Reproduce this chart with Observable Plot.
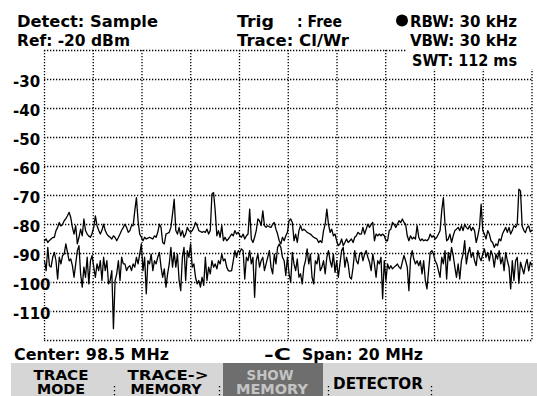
<!DOCTYPE html>
<html><head><meta charset="utf-8">
<script src="https://cdn.jsdelivr.net/npm/d3@7"></script>
<script src="https://cdn.jsdelivr.net/npm/@observablehq/plot@0.6"></script>
<style>
html,body{margin:0;padding:0;background:#fff;}
#chart{width:537px;height:396px;overflow:hidden;}
svg text{font-family:"DejaVu Sans",sans-serif;font-weight:bold;}
</style></head><body><div id="chart"></div>
<script>
// ---- data ----
const centerMHz = 98.5;
const spanMHz = 20;
const gridLevels = [-20,-30,-40,-50,-60,-70,-80,-90,-100,-110,-120];
const levelTicks = [-30,-40,-50,-60,-70,-80,-90,-100,-110];
const levelTickLabels = ["-30","-40","-50","-60","-70","-80","-90","-100","-110"];
const gridFreqs = [88.5,90.5,92.5,94.5,96.5,98.5,100.5,102.5,104.5,106.5,108.5];

// upper trace (clear/write)
const traceClearWrite = [
-85.6,-85,-86.2,-85.5,-85,-84.5,-84.4,-82.1,-81,-79.3,-80.5,-79.9,-78.7,-78,-77,-75.8,-77.6,-81,-83.3,-80.4,
-86.7,-84.4,-81.6,-83.9,-78.1,-82.1,-83.3,-84,-84.4,-83,-81,-77,-80.4,-82,-83.3,-82,-79.9,-82.1,-83.3,-84,
-84.4,-85,-83.9,-84.5,-85.6,-84.5,-83.3,-82,-81,
-79.9,-81,-82.7,-82.1,-80.4,-80.4,-75.3,-70.7,-78.7,-83.3,-84.4,-85.6,-84.4,-85,-84.7,-84.4,-84.7,-85,-83.9,-84.4,
-82.7,-79.9,-81,-86.2,-86.7,-83.3,-83,-82.7,-81,-76.4,-71.3,-82.1,-83.3,-81,-83.9,-82.1,-84.4,-83.3,-81,-82.1,
-82.7,-82.1,-81,-79.3,-80.4,-82.1,-82.4,-82.7,
-82.4,-82.7,-81.6,-83.3,-82.1,-69.5,-69,-75.3,-83.9,-82.1,-84.4,-80.4,-85.6,-84.4,-85.6,-85,-84.2,-83.3,-83.9,-82.1,
-83.3,-82.7,-83.9,-84.4,-83.3,-85,-83.9,-83.3,-74.7,-85,-86.2,-84.4,-82.1,-78.1,-78.7,-80.4,-75.3,-80.4,-81,-80.4,
-80.8,-81,-79.9,-79.3,-81.6,-83.3,-85.6,-86.7,
-84.4,-85.6,-83.9,-82.7,-78.7,-78.1,-79.3,-85.6,-83.3,-86.2,-82.1,-80.4,-82.1,-81.6,-82.1,-82.7,-83,-83.3,-83.9,-84.4,
-84.7,-85,-86.2,-85.6,-86.2,-82.1,-79.9,-74.7,-79.9,-82.7,-81.6,-83.9,-83.3,-85.6,-87.3,-86.7,-85,-87.3,-86.2,-85,
-86.2,-85.6,-85,-86.2,-84.4,-83.9,-82.7,-83.3,
-83.3,-81,-83.3,-81.6,-79.9,-81,-79.9,-79.3,-85.6,-83.3,-83.9,-83.3,-83.9,-83.3,-83.9,-85.6,-85.6,-82.1,-81.6,-79.3,
-79.9,-81,-79.9,-78.7,-79.3,-78.1,-79.3,-79.9,-83.9,-85.6,-83.9,-85,-84.4,-85,-80.4,-84.4,-85.6,-85,-85.6,-85.3,
-85.6,-85,-83.3,-84.4,-83.9,-85,-84.4,-83.3,
-82.1,-75.3,-70.7,-79.9,-85.6,-85,-83.3,-86.2,-83.9,-82.1,-81.6,-81,-82.1,-80.4,-82.1,-79.9,-81,-81.6,-80.4,-82.1,
-81,-82.1,-86.2,-83.9,-81,-73,-82.1,-83.3,-85,-82.1,-83.3,-85.6,-86.2,-87.9,-86.7,-87.3,-85,-85.6,-83.3,-82.1,
-81,-82.7,-81,-83.3,-82.1,-80.4,-81,-79.9,
-67.8,-68.4,-80.5,-82,-82.8,-81,-80.5,-82.5,-82
];

// lower trace (memory)
const traceMemory = [
-92.5,-95.9,-87.9,-94.2,-94.7,-91.3,-89.6,-92.5,-98.8,-91.3,-93.6,-90.7,-90.2,-86.7,-89.6,-92.5,-91.9,-94.2,-98.2,-93.6,
-89,-87.3,-97,-101.6,-94.7,-98.2,-91.3,-100.5,-92.5,-90.7,-94.7,-98.2,-93.6,-95.9,-92.5,-99.3,-91.3,-95.9,-92.5,-100.5,
-99.3,-95.9,-115.9,-99.3,-97,-92.5,-99.3,-91.3,-93.6,
-93.6,-95.9,-94.7,-94.2,-95.9,-93.6,-94.7,-91.3,-93.6,-90.2,-86.7,-95.9,-91.3,-103.9,-92.5,-93.6,-90.2,-95.9,-92.5,-93.6,
-91.3,-89.6,-94.7,-98.2,-95.3,-101.6,-97,-93.6,-87.9,-94.7,-89.6,-94.7,-90.2,-99.3,-102.8,-91.3,-87.9,-99.3,-89,-91.3,
-86.7,-94.7,-93.6,-98.2,-100.5,-99.3,-101.6,-98.2,
-101,-91.3,-99.3,-94.7,-97,-92.5,-94.7,-93.6,-95.3,-92.5,-93.6,-90.2,-92.5,-91.9,-94.7,-95.9,-96.1,-95.9,-92.5,-89,
-91.3,-89,-89.6,-88.4,-89,-98.8,-91.3,-92.5,-89,-93.6,-91.3,-105.1,-92.5,-90.2,-94.7,-92.5,-91.3,-95.9,-93.6,-91.3,
-89,-94.7,-97,-90.2,-93.6,-87.9,-86.7,-87.9,
-91.3,-92.5,-97.6,-91.3,-97,-99.9,-89.6,-93.6,-95.9,-91.9,-98.2,-97,-100.5,-94.7,-92.5,-88.4,-93.6,-90.2,-98.2,-100.5,
-92.5,-93.6,-90.2,-95.9,-94.7,-92.5,-97,-91.3,-89,-92.5,-94.7,-90.2,-96.5,-92.5,-98.2,-93.6,-89,-87.9,-94.7,-91.3,
-93.6,-98.2,-98.8,-94.7,-89,-92.5,-93.6,-90.2,
-89.6,-92.5,-90.2,-89,-91.3,-93,-95.9,-90.2,-93.6,-98.2,-92.5,-93.6,-91.3,-105.6,-92.5,-99.3,-93.6,-95.3,-94.2,-95.3,
-94.7,-94.2,-93.6,-94.7,-95.3,-93,-90.7,-92.5,-94.7,-102.8,-91.9,-89,-91.9,-93.6,-92.5,-94.2,-92.5,-97,-92.5,-99.3,
-102.2,-95.9,-89.6,-89,-90.2,-92.5,-93.6,-95.9,
-98.2,-91.3,-93.6,-89,-98.8,-89.6,-92.5,-87.9,-90.7,-94.7,-98.2,-93.6,-98.8,-92.5,-90.2,-85.6,-93.6,-90.2,-87.9,-91.3,
-89.6,-92.5,-94.2,-89,-91.3,-92.5,-90.2,-88.4,-91.3,-89.6,-92.5,-89,-90.7,-94.7,-90.2,-91.9,-89,-93.6,-91.3,-95.9,
-89.6,-92.5,-94.7,-102.2,-92.5,-99.3,-92.5,-91.3,
-100.2,-93,-95,-97,-94,-92,-96,-93,-94
];

const startMHz = centerMHz - spanMHz / 2;
const stopMHz = centerMHz + spanMHz / 2;
const toRows = (arr) => arr.map((v, i) => ({f: startMHz + i * spanMHz / (arr.length - 1), dBm: v}));
const rowsA = toRows(traceClearWrite);
const rowsB = toRows(traceMemory);

const W = 537, H = 396;
const dots = "1.3 1.7";

const svg = Plot.plot({
  width: W, height: H,
  marginLeft: 44, marginRight: 5.5, marginTop: 50, marginBottom: 56,
  x: {domain: [startMHz, stopMHz], axis: null},
  y: {domain: [-120, -20], axis: null},
  style: {background: "#fff", fontFamily: "DejaVu Sans, sans-serif", overflow: "visible"},
  marks: [
    Plot.ruleY(gridLevels, {stroke: "#000", strokeWidth: 1.3, strokeDasharray: dots}),
    Plot.ruleX(gridFreqs, {stroke: "#000", strokeWidth: 1.3, strokeDasharray: dots}),
    Plot.line(rowsB, {x: "f", y: "dBm", stroke: "#000", strokeWidth: 1.3}),
    Plot.line(rowsA, {x: "f", y: "dBm", stroke: "#000", strokeWidth: 1.3}),
    Plot.text(levelTicks, {x: startMHz, y: d => d, text: (d, i) => levelTickLabels[i],
      textAnchor: "start", dx: -31.5, dy: 3, fontSize: 15, fontWeight: "bold", fill: "#000",
      stroke: "#fff", strokeWidth: 2})
  ]
});
document.getElementById("chart").appendChild(svg);

const s = d3.select(svg);
function txt(str, x, y, len, opts = {}) {
  const t = s.append("text").attr("x", x).attr("y", y).text(str)
    .attr("font-size", opts.size || 16.5).attr("font-weight", "bold")
    .attr("fill", opts.fill || "#000")
    .attr("text-anchor", opts.anchor || "start");
  if (len) t.attr("textLength", len).attr("lengthAdjust", "spacingAndGlyphs");
  return t;
}
// header background for SWT box
s.append("rect").attr("x", 406).attr("y", 46).attr("width", 131).attr("height", 23).attr("fill", "#fff");
txt("Detect: Sample", 17, 27, 141);
txt("Ref: -20 dBm", 17, 45.5, 113);
txt("Trig", 237, 27, 37);
txt(": Free", 297, 27, 45);
txt("Trace: Cl/Wr", 237, 45.5, 112);
s.append("circle").attr("cx", 402).attr("cy", 20.5).attr("r", 6).attr("fill", "#000");
txt("RBW: 30 kHz", 410, 27, 107);
txt("VBW: 30 kHz", 410, 45.5, 107);
txt("SWT: 112 ms", 412, 65.5, 105);

// footer
txt("Center: 98.5 MHz", 14, 360, 155);
txt("-C", 264, 360, 27);
txt("Span: 20 MHz", 302, 360, 121);

// softkey bar
s.append("rect").attr("x", 11).attr("y", 363).attr("width", 526).attr("height", 33).attr("fill", "#d6d6d6");
s.append("rect").attr("x", 223).attr("y", 363).attr("width", 100).attr("height", 33).attr("fill", "#6e6e6e");
const sk = {size: 14, anchor: "middle"};
txt("TRACE", 61, 379.5, 55, sk);
txt("MODE", 61, 394, 48, sk);
txt("TRACE->", 168, 379.5, 81, sk);
txt("MEMORY", 166, 394, 71, sk);
txt("SHOW", 270, 379.5, 47, {...sk, fill: "#c4c4c4"});
txt("MEMORY", 272, 394, 72, {...sk, fill: "#c4c4c4"});
txt("DETECTOR", 378, 389, 90, {size: 15, anchor: "middle"});
for (const sx of [114, 219, 328, 431]) {
  s.append("line").attr("x1", sx + 0.5).attr("x2", sx + 0.5).attr("y1", 386).attr("y2", 396)
    .attr("stroke", "#000").attr("stroke-width", 1.3).attr("stroke-dasharray", "1.3 2.7");
}
</script></body></html>
